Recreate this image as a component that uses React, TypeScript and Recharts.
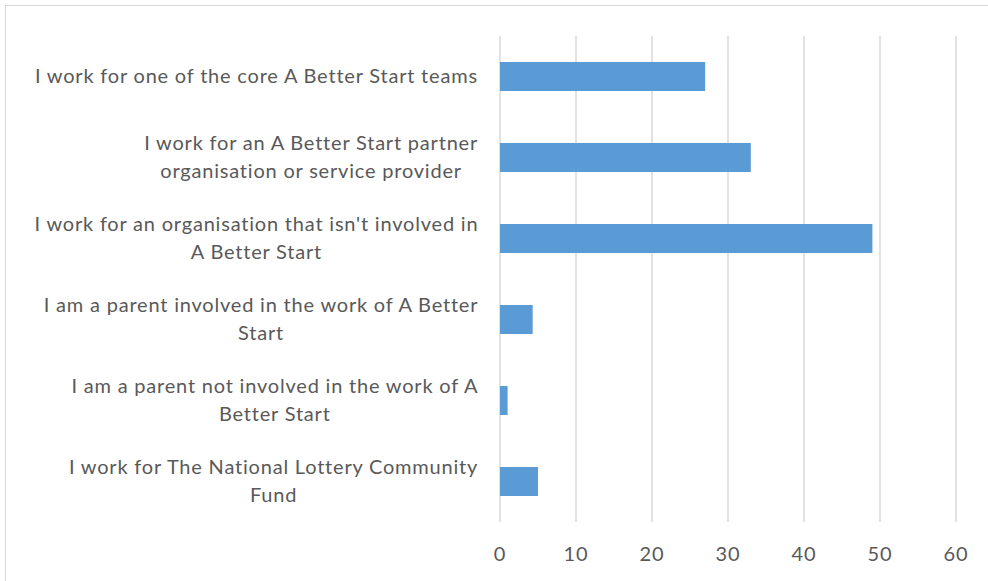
import React from "react";
import { BarChart, Bar, XAxis, YAxis, CartesianGrid } from "recharts";

const categories = [
  ["I work for one of the core A Better Start teams"],
  ["I work for an A Better Start partner", "organisation or service provider"],
  ["I work for an organisation that isn't involved in", "A Better Start"],
  ["I am a parent involved in the work of A Better", "Start"],
  ["I am a parent not involved in the work of A", "Better Start"],
  ["I work for The National Lottery Community", "Fund"],
];
const values = [27, 33, 49, 4.3, 1, 5];
const xTicks = [0, 10, 20, 30, 40, 50, 60];

const FONT = "Lato, 'Noto Sans', sans-serif";
const SPACING = 0.8;

const data = categories.map((lines, i) => ({ key: lines.join("|"), value: values[i] }));

let ctx: CanvasRenderingContext2D | null = null;
function measure(text: string) {
  if (!ctx) {
    ctx = document.createElement("canvas").getContext("2d");
  }
  if (!ctx) return text.length * 9.5;
  ctx.font = "20px Lato";
  return ctx.measureText(text).width + SPACING * text.length;
}

function CategoryTick(props: any) {
  const { x, y, payload } = props;
  const lines: string[] = payload.value.split("|");
  const block = Math.max(...lines.map(measure));
  const right = x - 13;
  const cx = right - block / 2;
  const lh = 28;
  const start = y - 2 - ((lines.length - 1) * lh) / 2;
  return (
    <g>
      {lines.map((l, i) => (
        <text
          key={i}
          x={cx}
          y={start + i * lh}
          textAnchor="middle"
          dominantBaseline="central"
          fontFamily={FONT}
          fontSize={20}
          letterSpacing={SPACING}
          fill="#595959"
        >
          {l}
        </text>
      ))}
    </g>
  );
}

function ValueTick(props: any) {
  const { x, y, payload } = props;
  return (
    <text
      x={x}
      y={y + 23}
      textAnchor="middle"
      dominantBaseline="central"
      fontFamily={FONT}
      fontSize={20}
      letterSpacing={SPACING}
      fill="#595959"
    >
      {payload.value}
    </text>
  );
}

export default function App() {
  return (
    <div
      style={{
        position: "absolute",
        left: 0,
        top: 0,
        width: 988,
        height: 581,
        overflow: "hidden",
        background: "#fff",
      }}
    >
      <div
        style={{
          position: "absolute",
          left: 5,
          top: 5,
          width: 1100,
          height: 700,
          border: "1.5px solid #d9d9d9",
        }}
      />
      <div style={{ position: "absolute", left: 0, top: 0 }}>
        <BarChart
          width={988}
          height={581}
          data={data}
          layout="vertical"
          margin={{ top: 36, right: 32, bottom: 0, left: 0 }}
        >
          <CartesianGrid horizontal={false} stroke="#d9d9d9" strokeWidth={1.5} />
          <XAxis
            type="number"
            domain={[0, 60]}
            ticks={xTicks}
            axisLine={false}
            tickLine={false}
            height={59}
            tick={<ValueTick />}
            interval={0}
          />
          <YAxis
            type="category"
            dataKey="key"
            width={500}
            axisLine={false}
            tickLine={false}
            tick={<CategoryTick />}
            interval={0}
          />
          <Bar dataKey="value" fill="#5b9bd5" barSize={29} isAnimationActive={false} />
        </BarChart>
      </div>
    </div>
  );
}
